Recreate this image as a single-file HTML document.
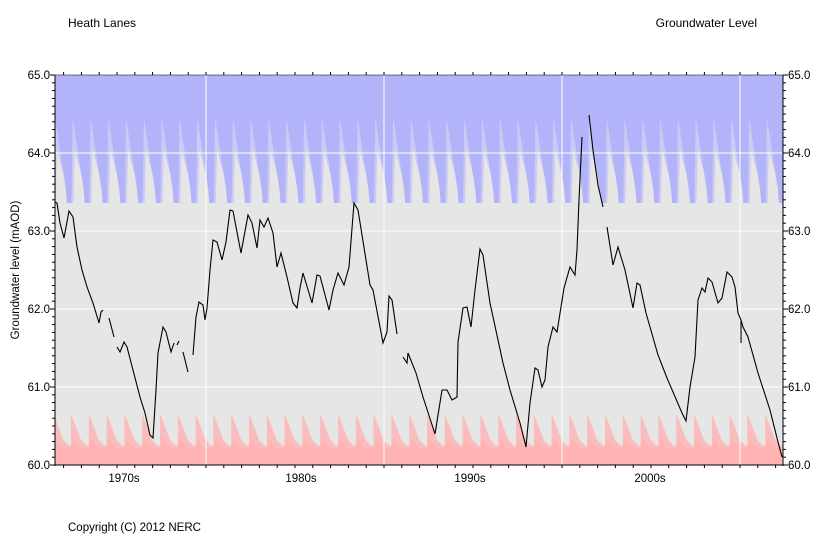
<!DOCTYPE html>
<html><head><meta charset="utf-8"><style>
body{margin:0;background:#fff;}
svg text{font-family:"Liberation Sans",sans-serif;}
</style></head><body>
<svg id="s" width="824" height="553" xmlns="http://www.w3.org/2000/svg">
<rect width="824" height="553" fill="#fff"/>
<rect x="55" y="75" width="728" height="390" fill="#e6e6e6"/>
<g id="bands"></g>
<g stroke="#fff" stroke-width="1">
<line x1="55" x2="783" y1="153" y2="153"/><line x1="55" x2="783" y1="231" y2="231"/>
<line x1="55" x2="783" y1="309" y2="309"/><line x1="55" x2="783" y1="387" y2="387"/>
<line x1="206" x2="206" y1="75" y2="465"/><line x1="384" x2="384" y1="75" y2="465"/>
<line x1="562" x2="562" y1="75" y2="465"/><line x1="740" x2="740" y1="75" y2="465"/>
</g>
<g id="line" fill="none" stroke="#000" stroke-width="1.1"></g>
<g id="ax" stroke="#000" stroke-width="1"></g>
<text x="68" y="27" font-size="12">Heath Lanes</text>
<text x="757" y="27" font-size="12" text-anchor="end">Groundwater Level</text>
<text x="68" y="531" font-size="11.5">Copyright (C) 2012 NERC</text>
<text transform="translate(19,270) rotate(-90)" font-size="11.5" text-anchor="middle">Groundwater level (mAOD)</text>
<g font-size="11.5" text-anchor="middle">
<text x="124" y="482">1970s</text><text x="301" y="482">1980s</text><text x="470" y="482">1990s</text><text x="650" y="482">2000s</text>
</g>
<g id="yl" font-size="11.5"></g>
</svg>
<script>
const NS="http://www.w3.org/2000/svg";
function el(p,t,a){const e=document.createElementNS(NS,t);for(const k in a)e.setAttribute(k,a[k]);p.appendChild(e);return e;}
const P=17.8;
let pts=[];
for(let x0=72.7-2*P;x0<800;x0+=P){pts.push([x0,117],[x0+11,190],[x0+12,203],[x0+16.5,203]);}
let d="M55,75 ";pts.forEach(p=>{d+="L"+Math.max(55,Math.min(783,p[0])).toFixed(1)+","+p[1]+" ";});d+="L783,75 Z";
const B=document.getElementById("bands");
let lb="M55,75 ";pts.forEach(p=>{let y=p[1]==117?150:p[1];lb+="L"+Math.max(55,Math.min(783,p[0]+2)).toFixed(1)+","+y+" ";});lb+="L783,75 Z";
el(B,"path",{d:lb,fill:"#cacaf2"});
el(B,"path",{d:d,fill:"#b3b3fa"});
let r="M55,465 ",r2="M55,465 ";
for(let x0=71-2*P;x0<800;x0+=P){
 [[x0,445],[x0,414],[x0+4,424],[x0+10,440],[x0+14,444],[x0+16,446]].forEach(p=>{r+="L"+Math.max(55,Math.min(783,p[0])).toFixed(1)+","+p[1]+" ";});
 [[x0,448],[x0+2,438],[x0+8,447],[x0+16,449]].forEach(p=>{r2+="L"+Math.max(55,Math.min(783,p[0])).toFixed(1)+","+p[1]+" ";});
}
r+="L783,465 Z";r2+="L783,465 Z";
el(B,"path",{d:r,fill:"#fbbcbc"});el(B,"path",{d:r2,fill:"#ffb3b3"});
const segs=[
[[55,202],[57,203],[60,223],[64,238],[69,211],[73,217],[77,247],[82,270],[87,287],[93,303],[99,323],[101,312],[103,310]],
[[109,318],[114,337]],
[[117,347],[120,352],[124,342],[127,347],[133,370],[140,397],[145,413],[150,435],[153,438],[156,390],[158,353],[163,327],[166,332],[171,352],[174,343]],
[[177,345],[179,341]],
[[183,352],[188,372]],
[[193,355],[196,317],[199,302],[203,305],[205,320],[207,308],[210,270],[213,240],[217,242],[222,260],[226,242],[230,210],[233,211],[241,253],[248,215],[252,223],[257,248],[260,220],[264,227],[268,218],[273,233],[277,267],[281,253],[287,277],[293,303],[297,308],[300,288],[303,273],[312,303],[317,275],[320,276],[329,310],[333,290],[338,273],[344,285],[349,267],[354,203],[358,210],[370,285],[373,290],[383,343],[387,332],[389,296],[392,300],[397,334]],
[[403,357],[407,363],[408,353],[412,363],[416,373],[423,397],[435,434],[442,390],[447,390],[452,400],[457,397],[458,342],[463,308],[467,307],[471,327],[475,290],[480,249],[483,255],[490,303],[503,363],[510,390],[520,423],[526,447],[530,403],[535,368],[538,370],[542,387],[545,380],[548,347],[553,327],[557,332],[561,307],[564,288],[570,267],[575,275],[577,250],[579,200],[582,137]],
[[589,115],[593,150],[598,185],[603,207]],
[[607,227],[613,265],[618,247],[625,270],[633,308],[637,283],[640,285],[646,313],[658,355],[667,378],[682,413],[686,421],[690,387],[695,357],[698,300],[702,288],[705,292],[708,278],[712,282],[718,303],[722,298],[727,272],[732,277],[735,287],[738,313],[741,320],[743,327],[748,337],[758,373],[770,410],[778,442],[782,457]],
[[741,320],[741,343]]
];
const L=document.getElementById("line");
segs.forEach(s=>el(L,"polyline",{points:s.map(p=>p.join(",")).join(" ")}));
const A=document.getElementById("ax");
el(A,"line",{x1:55,x2:55,y1:75,y2:466});el(A,"line",{x1:783,x2:783,y1:75,y2:466});
el(A,"line",{x1:55,x2:783,y1:465,y2:465});el(A,"line",{x1:55,x2:783,y1:75,y2:75,"stroke-width":0.6});
for(let i=0;i<=50;i++){const y=75+i*7.8;const len=i%10==0?5:3;
 el(A,"line",{x1:55-len,x2:55,y1:y,y2:y});el(A,"line",{x1:783,x2:783+len,y1:y,y2:y});}
for(let x=28+P;x<=783;x+=P){if(x<55)continue;
 el(A,"line",{x1:x,x2:x,y1:72,y2:75});el(A,"line",{x1:x,x2:x,y1:465,y2:468});}
const Y=document.getElementById("yl");
for(let v=60;v<=65;v++){const y=465-(v-60)*78+4;
 el(Y,"text",{x:50,y:y,"text-anchor":"end"}).textContent=v.toFixed(1);
 el(Y,"text",{x:788,y:y}).textContent=v.toFixed(1);}
</script>
</body></html>
